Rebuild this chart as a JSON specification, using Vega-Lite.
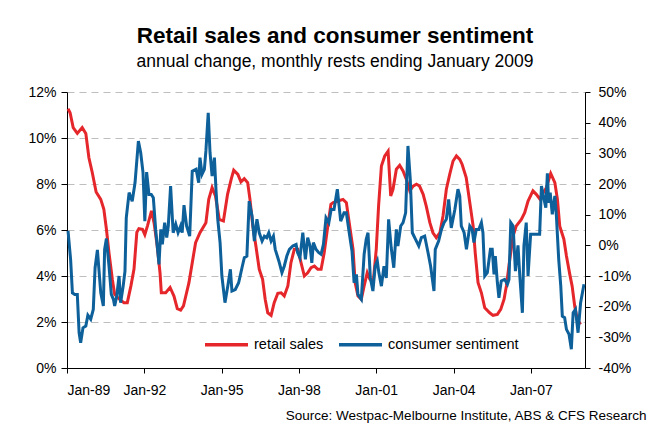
{
  "$schema": "https://vega.github.io/schema/vega-lite/v6.json",
  "description": "Retail sales and consumer sentiment",
  "width": 518,
  "height": 276,
  "autosize": {"type": "none"},
  "padding": {"left": 67, "top": 92, "right": 72, "bottom": 62},
  "background": "white",
  "title": {
    "text": "Retail sales and consumer sentiment",
    "subtitle": "annual change, monthly rests ending January 2009",
    "anchor": "middle",
    "dx": 9,
    "offset": 15,
    "font": "Liberation Sans",
    "fontSize": 22.5,
    "fontWeight": "bold",
    "color": "black",
    "subtitleFont": "Liberation Sans",
    "subtitleFontSize": 17.5,
    "subtitleColor": "black",
    "subtitlePadding": 5
  },
  "datasets": {
    "retail": [
      {"t": 1989.04, "v": 11.27}, {"t": 1989.12, "v": 11.1}, {"t": 1989.24, "v": 10.45}, {"t": 1989.40, "v": 10.2},
      {"t": 1989.59, "v": 10.45}, {"t": 1989.73, "v": 10.2}, {"t": 1989.85, "v": 9.14}, {"t": 1989.98, "v": 8.5},
      {"t": 1990.13, "v": 7.65}, {"t": 1990.31, "v": 7.33}, {"t": 1990.43, "v": 6.9}, {"t": 1990.53, "v": 6.03},
      {"t": 1990.63, "v": 5.0}, {"t": 1990.76, "v": 3.85}, {"t": 1990.85, "v": 3.2}, {"t": 1991.02, "v": 3.0},
      {"t": 1991.21, "v": 2.84}, {"t": 1991.34, "v": 2.84}, {"t": 1991.48, "v": 3.57}, {"t": 1991.60, "v": 4.3},
      {"t": 1991.71, "v": 5.9}, {"t": 1991.79, "v": 6.06}, {"t": 1991.93, "v": 6.03}, {"t": 1992.02, "v": 5.8},
      {"t": 1992.12, "v": 6.17}, {"t": 1992.28, "v": 6.83}, {"t": 1992.38, "v": 6.3}, {"t": 1992.50, "v": 5.3},
      {"t": 1992.61, "v": 4.14}, {"t": 1992.66, "v": 3.27}, {"t": 1992.83, "v": 3.27}, {"t": 1993.00, "v": 3.5},
      {"t": 1993.15, "v": 3.13}, {"t": 1993.28, "v": 2.58}, {"t": 1993.41, "v": 2.52}, {"t": 1993.52, "v": 2.7},
      {"t": 1993.61, "v": 3.13}, {"t": 1993.73, "v": 3.7}, {"t": 1993.86, "v": 4.58}, {"t": 1993.99, "v": 5.45},
      {"t": 1994.16, "v": 5.88}, {"t": 1994.39, "v": 6.32}, {"t": 1994.50, "v": 7.33}, {"t": 1994.63, "v": 7.84},
      {"t": 1994.76, "v": 7.48}, {"t": 1994.91, "v": 6.46}, {"t": 1995.07, "v": 6.39}, {"t": 1995.23, "v": 7.55},
      {"t": 1995.37, "v": 8.2}, {"t": 1995.47, "v": 8.6}, {"t": 1995.63, "v": 8.42}, {"t": 1995.75, "v": 8.09},
      {"t": 1995.88, "v": 8.23}, {"t": 1996.01, "v": 8.06}, {"t": 1996.10, "v": 7.33}, {"t": 1996.21, "v": 6.17},
      {"t": 1996.33, "v": 5.3}, {"t": 1996.46, "v": 4.29}, {"t": 1996.59, "v": 3.86}, {"t": 1996.69, "v": 2.99},
      {"t": 1996.79, "v": 2.4}, {"t": 1996.92, "v": 2.29}, {"t": 1997.04, "v": 2.84}, {"t": 1997.18, "v": 3.25},
      {"t": 1997.31, "v": 3.27}, {"t": 1997.43, "v": 3.13}, {"t": 1997.57, "v": 3.57}, {"t": 1997.69, "v": 4.58},
      {"t": 1997.82, "v": 5.16}, {"t": 1997.95, "v": 5.16}, {"t": 1998.08, "v": 4.58}, {"t": 1998.21, "v": 4.0},
      {"t": 1998.34, "v": 4.14}, {"t": 1998.47, "v": 4.36}, {"t": 1998.60, "v": 4.43}, {"t": 1998.73, "v": 4.29},
      {"t": 1998.86, "v": 4.29}, {"t": 1998.98, "v": 5.01}, {"t": 1999.12, "v": 6.17}, {"t": 1999.24, "v": 7.12},
      {"t": 1999.33, "v": 7.19}, {"t": 1999.52, "v": 7.26}, {"t": 1999.71, "v": 7.33}, {"t": 1999.84, "v": 7.19},
      {"t": 1999.97, "v": 6.17}, {"t": 2000.10, "v": 5.16}, {"t": 2000.18, "v": 3.71}, {"t": 2000.29, "v": 3.13},
      {"t": 2000.42, "v": 2.99}, {"t": 2000.53, "v": 3.57}, {"t": 2000.65, "v": 4.14}, {"t": 2000.75, "v": 3.86},
      {"t": 2000.88, "v": 3.71}, {"t": 2001.00, "v": 5.16}, {"t": 2001.09, "v": 7.04}, {"t": 2001.20, "v": 8.78},
      {"t": 2001.33, "v": 9.22}, {"t": 2001.46, "v": 9.43}, {"t": 2001.56, "v": 7.48}, {"t": 2001.65, "v": 7.77},
      {"t": 2001.78, "v": 8.64}, {"t": 2001.91, "v": 8.81}, {"t": 2002.04, "v": 8.57}, {"t": 2002.17, "v": 8.2},
      {"t": 2002.30, "v": 7.7}, {"t": 2002.43, "v": 7.91}, {"t": 2002.56, "v": 7.99}, {"t": 2002.68, "v": 7.91},
      {"t": 2002.82, "v": 7.55}, {"t": 2002.94, "v": 7.04}, {"t": 2003.08, "v": 6.32}, {"t": 2003.20, "v": 5.88},
      {"t": 2003.33, "v": 5.67}, {"t": 2003.47, "v": 5.88}, {"t": 2003.59, "v": 6.61}, {"t": 2003.72, "v": 7.77},
      {"t": 2003.85, "v": 8.42}, {"t": 2003.98, "v": 9.0}, {"t": 2004.11, "v": 9.22}, {"t": 2004.24, "v": 9.07},
      {"t": 2004.33, "v": 8.86}, {"t": 2004.49, "v": 8.28}, {"t": 2004.63, "v": 7.19}, {"t": 2004.76, "v": 6.17},
      {"t": 2004.84, "v": 5.01}, {"t": 2004.95, "v": 3.71}, {"t": 2005.08, "v": 3.27}, {"t": 2005.21, "v": 2.62},
      {"t": 2005.40, "v": 2.4}, {"t": 2005.53, "v": 2.29}, {"t": 2005.70, "v": 2.33}, {"t": 2005.83, "v": 2.55},
      {"t": 2005.96, "v": 2.99}, {"t": 2006.05, "v": 3.57}, {"t": 2006.18, "v": 4.72}, {"t": 2006.31, "v": 5.74},
      {"t": 2006.43, "v": 6.17}, {"t": 2006.63, "v": 6.46}, {"t": 2006.76, "v": 6.75}, {"t": 2006.89, "v": 7.26},
      {"t": 2007.08, "v": 7.7}, {"t": 2007.21, "v": 7.55}, {"t": 2007.34, "v": 7.36}, {"t": 2007.48, "v": 7.62},
      {"t": 2007.60, "v": 7.84}, {"t": 2007.77, "v": 8.46}, {"t": 2007.93, "v": 8.06}, {"t": 2008.03, "v": 7.33},
      {"t": 2008.12, "v": 6.17}, {"t": 2008.28, "v": 5.6}, {"t": 2008.38, "v": 4.87}, {"t": 2008.51, "v": 4.07},
      {"t": 2008.60, "v": 3.57}, {"t": 2008.70, "v": 2.7}, {"t": 2008.80, "v": 2.12}, {"t": 2008.93, "v": 1.9}
    ],
    "sentiment": [
      {"t": 1989.04, "v": 4.7}, {"t": 1989.14, "v": -4.6}, {"t": 1989.21, "v": -15.5}, {"t": 1989.30, "v": -16.0},
      {"t": 1989.40, "v": -16.0}, {"t": 1989.47, "v": -28.5}, {"t": 1989.53, "v": -31.8}, {"t": 1989.62, "v": -26.9},
      {"t": 1989.73, "v": -26.3}, {"t": 1989.81, "v": -22.8}, {"t": 1989.92, "v": -24.1}, {"t": 1990.02, "v": -20.9},
      {"t": 1990.09, "v": -7.3}, {"t": 1990.18, "v": -1.5}, {"t": 1990.31, "v": -15.5}, {"t": 1990.41, "v": -19.8},
      {"t": 1990.46, "v": -1.3}, {"t": 1990.53, "v": 2.2}, {"t": 1990.63, "v": -6.8}, {"t": 1990.72, "v": -16.0},
      {"t": 1990.80, "v": -17.6}, {"t": 1990.85, "v": -19.8}, {"t": 1990.93, "v": -16.5}, {"t": 1991.02, "v": -10.0},
      {"t": 1991.08, "v": -18.7}, {"t": 1991.18, "v": -13.3}, {"t": 1991.25, "v": -8.4}, {"t": 1991.30, "v": 9.0},
      {"t": 1991.41, "v": 17.2}, {"t": 1991.53, "v": 14.4}, {"t": 1991.64, "v": 20.4}, {"t": 1991.77, "v": 34.0},
      {"t": 1991.86, "v": 30.2}, {"t": 1991.95, "v": 23.7}, {"t": 1992.02, "v": 7.9}, {"t": 1992.09, "v": 23.9},
      {"t": 1992.18, "v": 16.6}, {"t": 1992.27, "v": 16.6}, {"t": 1992.35, "v": 15.5}, {"t": 1992.44, "v": 5.2},
      {"t": 1992.57, "v": -6.2}, {"t": 1992.64, "v": 5.2}, {"t": 1992.70, "v": 0.3}, {"t": 1992.79, "v": 7.4},
      {"t": 1992.87, "v": 2.5}, {"t": 1992.93, "v": 6.3}, {"t": 1993.02, "v": 19.3}, {"t": 1993.12, "v": 4.1},
      {"t": 1993.22, "v": 6.9}, {"t": 1993.31, "v": 4.1}, {"t": 1993.41, "v": 6.3}, {"t": 1993.47, "v": 4.1},
      {"t": 1993.54, "v": 13.1}, {"t": 1993.64, "v": 6.3}, {"t": 1993.76, "v": 3.0}, {"t": 1993.86, "v": 24.2},
      {"t": 1994.01, "v": 24.8}, {"t": 1994.11, "v": 20.4}, {"t": 1994.16, "v": 28.6}, {"t": 1994.24, "v": 23.2},
      {"t": 1994.33, "v": 24.8}, {"t": 1994.39, "v": 30.8}, {"t": 1994.48, "v": 43.2}, {"t": 1994.55, "v": 30.2},
      {"t": 1994.63, "v": 22.6}, {"t": 1994.72, "v": 28.6}, {"t": 1994.78, "v": 18.3}, {"t": 1994.85, "v": 8.5},
      {"t": 1994.94, "v": 0.9}, {"t": 1995.01, "v": -10.0}, {"t": 1995.13, "v": -18.7}, {"t": 1995.24, "v": -13.3},
      {"t": 1995.34, "v": -7.8}, {"t": 1995.40, "v": -14.9}, {"t": 1995.53, "v": -14.4}, {"t": 1995.66, "v": -12.2},
      {"t": 1995.79, "v": -7.3}, {"t": 1995.88, "v": -4.0}, {"t": 1995.98, "v": -3.5}, {"t": 1996.07, "v": 14.4},
      {"t": 1996.18, "v": 9.6}, {"t": 1996.27, "v": 1.4}, {"t": 1996.37, "v": 8.5}, {"t": 1996.46, "v": 4.1},
      {"t": 1996.57, "v": 1.4}, {"t": 1996.66, "v": 3.0}, {"t": 1996.75, "v": 2.5}, {"t": 1996.83, "v": 4.1},
      {"t": 1996.92, "v": 1.4}, {"t": 1997.01, "v": 3.0}, {"t": 1997.08, "v": -1.3}, {"t": 1997.22, "v": -5.1},
      {"t": 1997.34, "v": -8.9}, {"t": 1997.43, "v": -6.8}, {"t": 1997.53, "v": -3.5}, {"t": 1997.63, "v": -1.3},
      {"t": 1997.76, "v": -0.2}, {"t": 1997.89, "v": 0.3}, {"t": 1997.95, "v": -2.4}, {"t": 1998.04, "v": -4.0},
      {"t": 1998.15, "v": 4.1}, {"t": 1998.25, "v": -4.6}, {"t": 1998.34, "v": 2.5}, {"t": 1998.43, "v": -0.2},
      {"t": 1998.50, "v": -5.7}, {"t": 1998.56, "v": 0.9}, {"t": 1998.66, "v": -1.3}, {"t": 1998.77, "v": -2.4},
      {"t": 1998.86, "v": -2.9}, {"t": 1998.95, "v": 0.3}, {"t": 1999.05, "v": 9.0}, {"t": 1999.16, "v": 7.4},
      {"t": 1999.25, "v": 11.7}, {"t": 1999.36, "v": 11.7}, {"t": 1999.49, "v": 18.3}, {"t": 1999.62, "v": 7.9},
      {"t": 1999.75, "v": 10.6}, {"t": 1999.84, "v": 10.6}, {"t": 1999.97, "v": 3.0}, {"t": 2000.06, "v": -1.9},
      {"t": 2000.14, "v": -12.2}, {"t": 2000.23, "v": -9.5}, {"t": 2000.29, "v": -16.0}, {"t": 2000.42, "v": -17.6},
      {"t": 2000.53, "v": -2.9}, {"t": 2000.61, "v": 2.0}, {"t": 2000.68, "v": 4.1}, {"t": 2000.77, "v": -10.6},
      {"t": 2000.87, "v": -14.9}, {"t": 2000.96, "v": -6.8}, {"t": 2001.04, "v": -5.1}, {"t": 2001.10, "v": -8.9},
      {"t": 2001.20, "v": -13.3}, {"t": 2001.30, "v": -6.8}, {"t": 2001.39, "v": -10.6}, {"t": 2001.48, "v": 8.5},
      {"t": 2001.58, "v": -0.8}, {"t": 2001.68, "v": -7.3}, {"t": 2001.78, "v": 5.2}, {"t": 2001.84, "v": -0.2},
      {"t": 2001.95, "v": 6.3}, {"t": 2002.04, "v": 7.4}, {"t": 2002.14, "v": 10.6}, {"t": 2002.23, "v": 32.4},
      {"t": 2002.32, "v": 21.5}, {"t": 2002.40, "v": 4.1}, {"t": 2002.52, "v": 2.0}, {"t": 2002.65, "v": -0.2},
      {"t": 2002.75, "v": 2.5}, {"t": 2002.88, "v": 3.0}, {"t": 2003.01, "v": -2.4}, {"t": 2003.11, "v": -6.8},
      {"t": 2003.24, "v": -14.9}, {"t": 2003.29, "v": -1.3}, {"t": 2003.42, "v": 1.4}, {"t": 2003.53, "v": 5.2},
      {"t": 2003.63, "v": 7.4}, {"t": 2003.72, "v": 8.5}, {"t": 2003.81, "v": 15.0}, {"t": 2003.91, "v": 5.7},
      {"t": 2004.05, "v": 11.7}, {"t": 2004.17, "v": 18.3}, {"t": 2004.24, "v": 16.1}, {"t": 2004.30, "v": 6.3},
      {"t": 2004.41, "v": 4.1}, {"t": 2004.50, "v": -1.3}, {"t": 2004.63, "v": 6.3}, {"t": 2004.72, "v": 5.2},
      {"t": 2004.79, "v": 0.9}, {"t": 2004.88, "v": 5.2}, {"t": 2004.98, "v": 5.2}, {"t": 2005.08, "v": 7.4},
      {"t": 2005.14, "v": 4.1}, {"t": 2005.21, "v": -10.0}, {"t": 2005.31, "v": -8.9}, {"t": 2005.43, "v": -1.3},
      {"t": 2005.50, "v": -1.3}, {"t": 2005.57, "v": -9.5}, {"t": 2005.62, "v": -3.5}, {"t": 2005.70, "v": -12.2},
      {"t": 2005.76, "v": -17.1}, {"t": 2005.85, "v": -11.6}, {"t": 2005.98, "v": -11.1}, {"t": 2006.09, "v": -12.7},
      {"t": 2006.15, "v": -11.1}, {"t": 2006.22, "v": 7.4}, {"t": 2006.31, "v": 6.3}, {"t": 2006.40, "v": -8.4},
      {"t": 2006.50, "v": 0.0}, {"t": 2006.57, "v": -10.0}, {"t": 2006.67, "v": -22.0}, {"t": 2006.73, "v": -0.2},
      {"t": 2006.82, "v": 7.4}, {"t": 2006.89, "v": -10.0}, {"t": 2006.99, "v": 3.6}, {"t": 2007.08, "v": 3.6},
      {"t": 2007.21, "v": 3.6}, {"t": 2007.34, "v": 3.6}, {"t": 2007.41, "v": 19.3}, {"t": 2007.51, "v": 15.0},
      {"t": 2007.58, "v": 12.3}, {"t": 2007.64, "v": 23.5}, {"t": 2007.69, "v": 13.9}, {"t": 2007.75, "v": 17.2},
      {"t": 2007.83, "v": 10.1}, {"t": 2007.93, "v": 16.1}, {"t": 2007.99, "v": 9.6}, {"t": 2008.08, "v": -4.6},
      {"t": 2008.16, "v": -13.3}, {"t": 2008.22, "v": -23.1}, {"t": 2008.31, "v": -23.6}, {"t": 2008.38, "v": -27.4},
      {"t": 2008.48, "v": -29.0}, {"t": 2008.57, "v": -33.9}, {"t": 2008.64, "v": -22.0}, {"t": 2008.73, "v": -20.9},
      {"t": 2008.83, "v": -28.5}, {"t": 2008.93, "v": -18.7}, {"t": 2009.06, "v": -12.7}
    ]
  },
  "encoding": {
    "x": {
      "field": "t",
      "type": "quantitative",
      "scale": {"domain": [1989, 2009.1], "nice": false, "zero": false},
      "axis": {
        "values": [1989, 1992, 1995, 1998, 2001, 2004, 2007],
        "format": "d",
        "labelExpr": "'Jan-' + substring(datum.label, 2)",
        "grid": false,
        "tickSize": 5,
        "labelPadding": 10,
        "title": "Source: Westpac-Melbourne Institute, ABS & CFS Research",
        "titleFontSize": 13.5,
        "titleFontWeight": "normal",
        "titleAlign": "right",
        "titleBaseline": "alphabetic",
        "titleX": 579,
        "titleY": 51
      }
    }
  },
  "layer": [
    {
      "data": {"name": "retail"},
      "mark": {"type": "line", "strokeWidth": 3, "interpolate": "linear"},
      "encoding": {
        "y": {
          "field": "v",
          "type": "quantitative",
          "scale": {"domain": [0, 12], "nice": false},
          "axis": {
            "orient": "left",
            "values": [0, 2, 4, 6, 8, 10, 12],
            "labelExpr": "datum.value + '%'",
            "grid": true,
            "gridDash": [7, 5],
            "gridColor": "#BEBEBE",
            "tickSize": 6,
            "labelPadding": 5,
            "title": null
          }
        },
        "color": {
          "datum": "retail sales",
          "type": "nominal",
          "scale": {"domain": ["retail sales", "consumer sentiment"], "range": ["#E5262B", "#0D609A"]},
          "legend": {
            "orient": "none",
            "legendX": 136,
            "legendY": 229,
            "direction": "horizontal",
            "title": null,
            "symbolType": "stroke",
            "symbolStrokeWidth": 3.5,
            "symbolSize": 1849,
            "labelFontSize": 14.5,
            "labelOffset": 4,
            "columnPadding": 8
          }
        }
      }
    },
    {
      "data": {"name": "sentiment"},
      "mark": {"type": "line", "strokeWidth": 3, "interpolate": "linear"},
      "encoding": {
        "y": {
          "field": "v",
          "type": "quantitative",
          "scale": {"domain": [-40, 50], "nice": false},
          "axis": {
            "orient": "right",
            "values": [-40, -30, -20, -10, 0, 10, 20, 30, 40, 50],
            "labelExpr": "datum.value + '%'",
            "grid": false,
            "tickSize": 5,
            "labelPadding": 8,
            "title": null
          }
        },
        "color": {"datum": "consumer sentiment", "type": "nominal"}
      }
    }
  ],
  "resolve": {"scale": {"y": "independent"}},
  "config": {
    "font": "Liberation Sans",
    "view": {"stroke": null},
    "axis": {
      "domainColor": "black",
      "tickColor": "black",
      "labelColor": "black",
      "titleColor": "black",
      "labelFont": "Liberation Sans",
      "titleFont": "Liberation Sans",
      "labelFontSize": 14
    },
    "legend": {"labelFont": "Liberation Sans", "labelColor": "black"}
  }
}
